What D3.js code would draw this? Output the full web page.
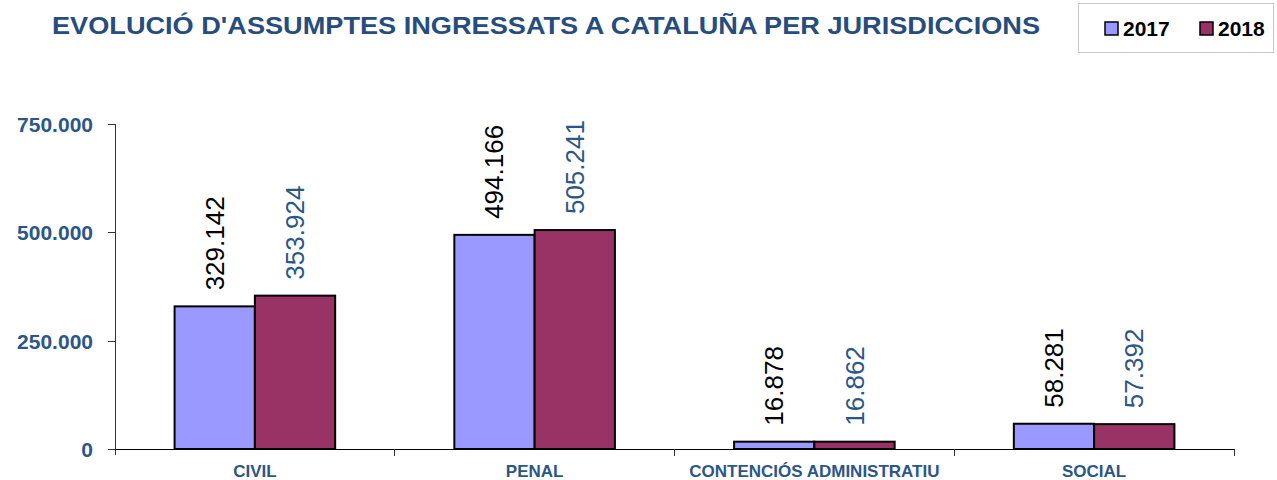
<!DOCTYPE html>
<meta charset="utf-8">
<style>
body { margin: 0; background: #fff; }
text { font-family: "Liberation Sans", Arial, sans-serif; }
.axis path, .axis line { stroke: #333; shape-rendering: crispEdges; }
</style>
<script src="https://cdn.jsdelivr.net/npm/d3@7"></script>
<body>
<script>

var categories = ["CIVIL", "PENAL", "CONTENCIÓS ADMINISTRATIU", "SOCIAL"];
var years = ["2017", "2018"];
var values2017 = [329142, 494166, 16878, 58281];
var values2018 = [353924, 505241, 16862, 57392];
var yTicks = [0, 250000, 500000, 750000];

var colors = {"2017": "#9999ff", "2018": "#993366"};
var labelColors = {"2017": "#000", "2018": "#2b5688"};
var blue = "#2b5688";

var width = 1277, height = 480;
var margin = {top: 124, left: 115, right: 43, bottom: 31};

var svg = d3.select("body").append("svg")
    .attr("width", width)
    .attr("height", height);

var fmt = function(v) { return d3.format(",")(v).replace(/,/g, "."); };

var data = categories.map(function(c, i) {
  return {cat: c, vals: [{year: "2017", v: values2017[i]}, {year: "2018", v: values2018[i]}]};
});

var x0 = d3.scaleBand()
    .domain(categories)
    .range([margin.left, width - margin.right])
    .padding(0);

var x1 = d3.scaleBand()
    .domain(years)
    .range([x0.bandwidth() * 0.213, x0.bandwidth() * 0.787])
    .padding(0);

var y = d3.scaleLinear()
    .domain([0, 750000])
    .range([height - margin.bottom, margin.top]);

// title
svg.append("text")
    .attr("x", 52)
    .attr("y", 34)
    .attr("textLength", 988)
    .attr("lengthAdjust", "spacingAndGlyphs")
    .style("font-size", "24px")
    .style("font-weight", "bold")
    .style("fill", "#264d7e")
    .text("EVOLUCIÓ D'ASSUMPTES INGRESSATS A CATALUÑA PER JURISDICCIONS");

// legend
var legend = svg.append("g");
legend.append("rect")
    .attr("x", 1078.5).attr("y", 3.5)
    .attr("width", 195).attr("height", 49)
    .attr("fill", "#fff")
    .attr("stroke", "#c8c8c8");

years.forEach(function(yr, i) {
  var lx = 1105 + i * 95;
  legend.append("rect")
      .attr("x", lx).attr("y", 22)
      .attr("width", 13).attr("height", 13)
      .attr("fill", colors[yr])
      .attr("stroke", "#000")
      .attr("stroke-width", 1.5);
  legend.append("text")
      .attr("x", lx + 18).attr("y", 36)
      .style("font-size", "21px")
      .style("font-weight", "bold")
      .text(yr);
});

// y axis
var yAxis = d3.axisLeft(y)
    .tickValues(yTicks)
    .tickSize(7)
    .tickFormat(fmt);

var gy = svg.append("g")
    .attr("class", "axis")
    .attr("transform", "translate(" + margin.left + ",0)")
    .call(yAxis);

gy.select(".domain").attr("d", "M0," + y(750000) + "V" + (y(0) + 6));
gy.selectAll("text")
    .attr("x", -22)
    .attr("dy", "0.35em")
    .style("font-size", "21px")
    .style("font-weight", "bold")
    .style("fill", blue);

// x axis
var xAxis = d3.axisBottom(x0).tickSize(0).tickSizeOuter(0);

var gx = svg.append("g")
    .attr("class", "axis")
    .attr("transform", "translate(0," + y(0) + ")")
    .call(xAxis);

gx.select(".domain").style("stroke", "#000");
gx.selectAll("text")
    .attr("y", 28)
    .attr("dy", 0)
    .style("font-size", "17px")
    .style("font-weight", "bold")
    .style("fill", blue);

// category separators
gx.selectAll(".sep")
    .data(categories.map(function(c) { return x0(c); }).concat([x0.range()[1]]).slice(1))
    .enter().append("line")
    .attr("class", "sep")
    .attr("x1", function(d) { return d; })
    .attr("x2", function(d) { return d; })
    .attr("y1", 0).attr("y2", 7);

// bars
var groups = svg.append("g").selectAll("g")
    .data(data)
    .enter().append("g")
    .attr("transform", function(d) { return "translate(" + x0(d.cat) + ",0)"; });

groups.selectAll("rect")
    .data(function(d) { return d.vals; })
    .enter().append("rect")
    .attr("x", function(d) { return x1(d.year); })
    .attr("y", function(d) { return y(d.v); })
    .attr("width", x1.bandwidth())
    .attr("height", function(d) { return y(0) - y(d.v); })
    .attr("fill", function(d) { return colors[d.year]; })
    .attr("stroke", "#000")
    .attr("stroke-width", 2);

groups.selectAll("text.val")
    .data(function(d) { return d.vals; })
    .enter().append("text")
    .attr("class", "val")
    .attr("transform", function(d) {
      return "translate(" + (x1(d.year) + x1.bandwidth() / 2 + 9) + "," + (y(d.v) - 16) + ") rotate(-90)";
    })
    .style("font-size", "26px")
    .style("fill", function(d) { return labelColors[d.year]; })
    .text(function(d) { return fmt(d.v); });

</script>
</body>
